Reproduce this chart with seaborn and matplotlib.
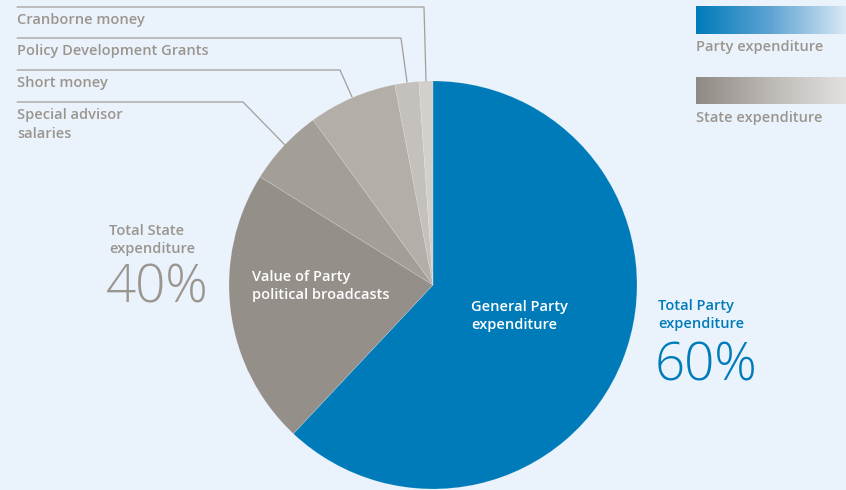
import numpy as np
import matplotlib
matplotlib.use("Agg")
import matplotlib.pyplot as plt
import seaborn as sns
from matplotlib.colors import LinearSegmentedColormap

sns.set_theme(style="white")
plt.rcParams['font.family'] = ['Open Sans', 'DejaVu Sans']

# Data (share of total, %), clockwise from top
categories = ["General Party expenditure", "Value of Party political broadcasts",
              "Special advisor salaries", "Short money",
              "Policy Development Grants", "Cranborne money"]
values = [62.0, 21.9, 6.1, 7.0, 1.9, 1.1]
colors = ["#007bba", "#958f89", "#a49e98", "#b3aea8", "#c4c0bb", "#d3cfcb"]
total_labels = ["Total Party\nexpenditure", "Total State\nexpenditure"]
total_values = ["60%", "40%"]
legend_labels = ["Party expenditure", "State expenditure"]

BG = "#eaf3fb"
GREY_TXT = "#9b958f"
BLUE = "#007bba"
W, H = 846, 490

fig = plt.figure(figsize=(W / 100, H / 100), dpi=100, facecolor=BG)
ax = fig.add_axes([0, 0, 1, 1])
ax.set_facecolor(BG)

def Y(y):
    return H - y

cx, cy, r = 433, Y(285), 204
wedges, _ = ax.pie(values, colors=colors, startangle=90, counterclock=False,
                   center=(cx, cy), radius=r, frame=True,
                   wedgeprops=dict(linewidth=0.4, edgecolor=(1, 1, 1, 0.25)))

# Leader lines and outer labels
line_c = "#a39e99"
leaders = [
    ("Cranborne money", 7, 424, (426, 81)),
    ("Policy Development Grants", 38, 401, (407, 82)),
    ("Short money", 70, 340, (352, 97)),
    ("Special advisor\nsalaries", 102, 243, (285, 145)),
]
for lab, ly, lx, end in leaders:
    ax.plot([17, lx, end[0]], [Y(ly), Y(ly), Y(end[1])], color=line_c, lw=0.9,
            solid_joinstyle="miter", zorder=1)
    ax.text(17, Y(ly + 6.5), lab, ha="left", va="top", fontsize=10.5,
            color=GREY_TXT, fontweight="semibold", linespacing=1.45)

# In-slice labels
ax.text(252, Y(286), "Value of Party\npolitical broadcasts", ha="left", va="center",
        fontsize=10.5, color="white", fontweight="semibold", linespacing=1.45)
ax.text(471, Y(316), "General Party\nexpenditure", ha="left", va="center",
        fontsize=10.5, color="white", fontweight="semibold", linespacing=1.45)

# Totals
ax.text(109, Y(240), total_labels[1], ha="left", va="center", fontsize=10.5,
        color=GREY_TXT, fontweight="semibold", linespacing=1.45)
ax.text(106, Y(289), total_values[1], ha="left", va="center", fontsize=38,
        color=GREY_TXT, fontweight="light")
ax.text(658, Y(315), total_labels[0], ha="left", va="center", fontsize=10.5,
        color=BLUE, fontweight="semibold", linespacing=1.45)
ax.text(655, Y(367), total_values[0], ha="left", va="center", fontsize=38,
        color=BLUE, fontweight="light")

# Legend gradient bars
grad = np.linspace(0, 1, 256).reshape(1, -1)
cm_blue = LinearSegmentedColormap.from_list("b", ["#007bba", "#5fa3d3", "#d8e8f5"])
cm_grey = LinearSegmentedColormap.from_list("g", ["#8f8983", "#bdb9b5", "#e2e1df"])
ax.imshow(grad, cmap=cm_blue, extent=[696, 846, Y(34), Y(6)], aspect="auto", zorder=2)
ax.imshow(grad, cmap=cm_grey, extent=[696, 846, Y(104), Y(77)], aspect="auto", zorder=2)
ax.text(696, Y(47), legend_labels[0], ha="left", va="center", fontsize=10.5,
        color=GREY_TXT, fontweight="semibold")
ax.text(696, Y(118), legend_labels[1], ha="left", va="center", fontsize=10.5,
        color=GREY_TXT, fontweight="semibold")

ax.set_xlim(0, W)
ax.set_ylim(0, H)
ax.set_aspect("equal")
ax.axis("off")

fig.savefig("out.png", dpi=100, facecolor=BG)
